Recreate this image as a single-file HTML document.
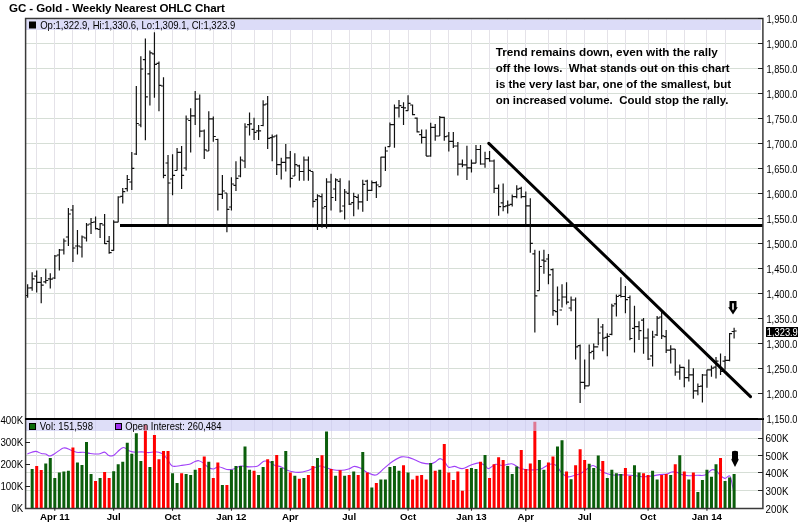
<!DOCTYPE html>
<html><head><meta charset="utf-8">
<style>
html,body{margin:0;padding:0;background:#fff;width:800px;height:524px;overflow:hidden}
svg{position:absolute;left:0;top:0;will-change:transform}
text{font-family:"Liberation Sans",sans-serif}
</style></head><body>
<svg width="800" height="524" viewBox="0 0 800 524">
<text x="9" y="11.5" font-size="11.6" font-weight="bold" fill="#000" letter-spacing="-0.1">GC - Gold - Weekly Nearest OHLC Chart</text>
<path d="M25 43.5H763M25 68.5H763M25 93.5H763M25 118.5H763M25 143.5H763M25 168.5H763M25 193.5H763M25 218.5H763M25 243.5H763M25 268.5H763M25 293.5H763M25 318.5H763M25 343.5H763M25 368.5H763M25 393.5H763" stroke="#d6ded6" stroke-width="1" fill="none"/>
<path d="M25 438.5H763M25 455.5H763M25 472.5H763M25 490.5H763" stroke="#d6ded6" stroke-width="1" fill="none"/>
<path d="M36.5 18V508M54.5 18V508M72.5 18V508M95.5 18V508M113.5 18V508M131.5 18V508M154.5 18V508M172.5 18V508M195.5 18V508M213.5 18V508M231.5 18V508M254.5 18V508M272.5 18V508M290.5 18V508M312.5 18V508M331.5 18V508M349.5 18V508M371.5 18V508M389.5 18V508M408.5 18V508M430.5 18V508M448.5 18V508M471.5 18V508M489.5 18V508M507.5 18V508M525.5 18V508M548.5 18V508M566.5 18V508M584.5 18V508M607.5 18V508M625.5 18V508M648.5 18V508M666.5 18V508M684.5 18V508M706.5 18V508M725.5 18V508" stroke="#e4e2e8" stroke-width="1" fill="none"/>
<rect x="26" y="19.5" width="735" height="10.5" fill="#dcdcf8"/>
<rect x="120" y="224" width="643" height="3" fill="#000"/>
<path d="M27.64 284.3V297.7M25.14 295.5H27.64M27.64 288.0H30.14M32.16 272.3V290.8M29.659999999999997 287.8H32.16M32.16 278.8H34.66M36.69 270.6V292.5M34.19 276.2H36.69M36.69 282.4H39.19M41.22 277.0V303.2M38.72 282.4H41.22M41.22 285.2H43.72M45.75 268.7V283.5M43.25 281.8H45.75M45.75 280.5H48.25M50.28 273.2V288.6M47.78 278.8H50.28M50.28 279.2H52.78M54.81 255.0V279.0M52.31 278.0H54.81M54.81 256.0H57.31M59.34 249.0V270.5M56.84 255.0H59.34M59.34 250.0H61.84M63.86 238.5V254.5M61.36 250.0H63.86M63.86 241.0H66.36M68.39 208.0V246.0M65.89 237.0H68.39M68.39 214.0H70.89M72.92 205.0V262.0M70.42 210.0H72.92M72.92 248.0H75.42M77.45 230.0V254.5M74.95 246.0H77.45M77.45 246.0H79.95M81.98 235.5V257.5M79.48 247.0H81.98M81.98 237.0H84.48M86.51 223.0V241.5M84.01 238.0H86.51M86.51 225.0H89.01M91.04 218.0V234.0M88.54 224.0H91.04M91.04 222.5H93.54M95.57 216.4V229.4M93.07 222.0H95.57M95.57 228.6H98.07M100.09 223.1V237.9M97.59 229.3H100.09M100.09 223.6H102.59M104.62 213.9V244.1M102.12 225.0H104.62M104.62 243.6H107.12M109.15 236.0V253.7M106.65 241.3H109.15M109.15 252.7H111.65M113.68 220.3V250.8M111.18 250.3H113.68M113.68 222.2H116.18M118.21 196.3V222.2M115.71 222.2H118.21M118.21 197.0H120.71M122.74 188.0V203.5M120.24 196.3H122.74M122.74 191.7H125.24M127.27 175.0V191.5M124.77 188.7H127.27M127.27 179.5H129.76999999999998M131.8 152.0V190.0M129.3 182.0H131.8M131.8 168.4H134.3M136.32 86.0V155.0M133.82 154.0H136.32M136.32 123.5H138.82M140.85 56.3V127.3M138.35 125.0H140.85M140.85 69.0H143.35M145.38 38.6V140.3M142.88 59.6H145.38M145.38 96.8H147.88M149.91 50.6V105.4M147.41 73.9H149.91M149.91 52.9H152.41M154.44 32.3V97.7M151.94 53.9H154.44M154.44 64.4H156.94M158.97 61.5V111.2M156.47 63.4H158.97M158.97 85.3H161.47M163.5 77.3V178.2M161.0 86.0H163.5M163.5 175.3H166.0M168.02 155.0V226.8M165.52 163.0H168.02M168.02 183.0H170.52M172.55 154.3V195.3M170.05 179.0H172.55M172.55 175.3H175.05M177.08 148.0V170.5M174.58 170.5H177.08M177.08 152.4H179.58M181.61 146.0V189.0M179.11 152.4H181.61M181.61 175.3H184.11M186.14 115.5V170.5M183.64 168.0H186.14M186.14 119.0H188.64M190.67 108.2V152.5M188.17 120.5H190.67M190.67 115.9H193.17M195.2 91.0V125.0M192.7 115.9H195.2M195.2 99.1H197.7M199.73 94.5V137.2M197.23 99.0H199.73M199.73 131.1H202.23M204.25 129.6V158.9M201.75 131.0H204.25M204.25 149.8H206.75M208.78 111.3V151.0M206.28 151.0H208.78M208.78 118.9H211.28M213.31 116.6V141.8M210.81 118.9H213.31M213.31 136.5H215.81M217.84 138.8V210.5M215.34 139.5H217.84M217.84 194.4H220.34M222.37 175.0V199.0M219.87 194.4H222.37M222.37 191.0H224.87M226.9 193.3V232.2M224.4 193.0H226.9M226.9 209.3H229.4M231.43 177.2V210.5M228.93 207.0H231.43M231.43 184.0H233.93M235.96 161.2V191.0M233.46 185.3H235.96M235.96 178.4H238.46M240.48 156.6V177.2M237.98 176.0H240.48M240.48 160.0H242.98M245.01 123.2V168.0M242.51 161.0H245.01M245.01 127.0H247.51M249.54 112.5V135.4M247.04 124.7H249.54M249.54 123.9H252.04M254.07 117.8V140.0M251.57 129.3H254.07M254.07 132.3H256.57M258.6 125.0V140.0M256.1 130.8H258.6M258.6 130.8H261.1M263.13 100.3V126.2M260.63 125.5H263.13M263.13 104.8H265.63M267.66 96.0V149.1M265.16 104.0H267.66M267.66 138.4H270.16M272.18 134.6V161.3M269.68 137.7H272.18M272.18 136.9H274.68M276.71 134.6V175.0M274.21 136.0H276.71M276.71 164.7H279.21M281.24 157.8V179.5M278.74 164.7H281.24M281.24 162.4H283.74M285.77 144.0V171.5M283.27 162.4H285.77M285.77 157.8H288.27M290.3 151.0V187.6M287.8 157.8H290.3M290.3 178.4H292.8M294.83 153.2V176.1M292.33 176.0H294.83M294.83 164.7H297.33M299.36 164.7V180.7M296.86 165.8H299.36M299.36 171.5H301.86M303.89 156.6V180.7M301.39 171.5H303.89M303.89 160.0H306.39M308.41 156.6V180.7M305.91 160.0H308.41M308.41 170.4H310.91M312.94 171.5V207.6M310.44 171.5H312.94M312.94 201.3H315.44M317.47 194.3V230.1M314.97 199.6H317.47M317.47 195.8H319.97M322.0 193.5V227.8M319.5 196.6H322.0M322.0 208.0H324.5M326.53 178.2V228.6M324.03 206.5H326.53M326.53 182.0H329.03M331.06 173.7V210.6M328.56 182.0H331.06M331.06 197.5H333.56M335.59 178.2V201.0M333.09 189.0H335.59M335.59 179.8H338.09M340.12 178.2V212.6M337.62 181.3H340.12M340.12 211.0H342.62M344.64 188.9V219.4M342.14 206.0H344.64M344.64 192.0H347.14M349.17 180.5V204.9M346.67 193.4H349.17M349.17 204.1H351.67M353.7 192.7V216.3M351.2 202.6H353.7M353.7 196.5H356.2M358.23 194.2V209.5M355.73 197.3H358.23M358.23 201.8H360.73M362.76 179.7V211.8M360.26 201.8H362.76M362.76 184.3H365.26M367.29 179.7V201.0M364.79 181.2H367.29M367.29 190.4H369.79M371.82 180.5V191.1M369.32 190.4H371.82M371.82 182.7H374.32M376.34 181.2V198.0M373.84 182.7H376.34M376.34 185.0H378.84M380.87 156.8V186.6M378.37 186.6H380.87M380.87 157.2H383.37M385.4 146.7V170.9M382.9 157.2H385.4M385.4 151.0H387.9M389.93 122.6V146.7M387.43 146.7H389.93M389.93 124.7H392.43M394.46 104.5V147.8M391.96 124.7H394.46M394.46 107.9H396.96M398.99 99.9V117.6M396.49 107.9H398.99M398.99 105.6H401.49M403.52 102.2V125.0M401.02 107.3H403.52M403.52 107.9H406.02M408.05 95.3V110.7M405.55 110.7H408.05M408.05 103.3H410.55M412.57 104.5V115.3M410.07 105.0H412.57M412.57 114.7H415.07M417.1 117.6V132.5M414.6 118.2H417.1M417.1 131.9H419.6M421.63 129.4V143.4M419.13 134.7H421.63M421.63 137.4H424.13M426.16 129.4V156.1M423.66 137.4H426.16M426.16 156.1H428.66M430.69 122.7V156.8M428.19 156.0H430.69M430.69 127.4H433.19M435.22 124.0V140.7M432.72 127.4H435.22M435.22 136.0H437.72M439.75 116.0V136.0M437.25 136.0H439.75M439.75 117.3H442.25M444.28 116.7V140.7M441.78 117.3H444.28M444.28 136.7H446.78M448.8 132.0V151.4M446.3 136.0H448.8M448.8 141.4H451.3M453.33 132.0V148.0M450.83 141.4H453.33M453.33 146.0H455.83M457.86 142.0V175.5M455.36 146.0H457.86M457.86 164.1H460.36M462.39 159.4V167.2M459.89 164.1H462.39M462.39 164.8H464.89M466.92 145.7V180.0M464.42 164.8H466.92M466.92 167.8H469.42M471.45 159.4V172.4M468.95 167.8H471.45M471.45 163.2H473.95M475.98 144.9V163.2M473.48 163.2H475.98M475.98 149.5H478.48M480.5 144.9V164.8M478.0 149.5H480.5M480.5 164.0H483.0M485.03 151.8V167.8M482.53 164.0H485.03M485.03 158.7H487.53M489.56 151.0V161.7M487.06 158.7H489.56M489.56 161.0H492.06M494.09 159.4V193.0M491.59 161.0H494.09M494.09 188.4H496.59M498.62 184.5V215.8M496.12 188.4H498.62M498.62 206.6H501.12M503.15 183.4V211.2M500.65 202.8H503.15M503.15 206.6H505.65M507.68 200.5V213.5M505.18 205.9H507.68M507.68 205.1H510.18M512.21 194.4V206.6M509.71000000000004 204.4H512.21M512.21 196.7H514.71M516.73 185.3V198.2M514.23 196.7H516.73M516.73 189.1H519.23M521.26 186.8V198.2M518.76 188.3H521.26M521.26 196.7H523.76M525.79 191.4V224.2M523.29 196.7H525.79M525.79 205.9H528.29M530.32 198.2V252.8M527.82 205.9H530.32M530.32 243.3H532.82M534.85 249.7V332.6M532.35 253.9H534.85M534.85 295.9H537.35M539.38 250.7V290.6M536.88 290.6H539.38M539.38 266.5H541.88M543.91 249.7V273.8M541.41 260.2H543.91M543.91 261.2H546.41M548.44 253.9V284.3M545.94 259.0H548.44M548.44 274.9H550.94M552.96 268.6V315.8M550.46 269.6H552.96M552.96 310.6H555.46M557.49 286.4V325.3M554.99 311.6H557.49M557.49 300.0H559.99M562.02 284.3V307.4M559.52 310.0H562.02M562.02 297.0H564.52M566.55 282.2V304.4M564.05 297.0H566.55M566.55 302.2H569.05M571.08 296.4V311.3M568.58 308.0H571.08M571.08 300.0H573.58M575.61 297.6V359.4M573.11 300.0H575.61M575.61 346.8H578.11M580.14 344.5V402.9M577.64 345.7H580.14M580.14 382.3H582.64M584.67 359.4V389.2M582.17 382.3H584.67M584.67 385.8H587.17M589.19 344.5V385.8M586.69 385.8H589.19M589.19 352.6H591.69M593.72 343.4V359.4M591.22 351.4H593.72M593.72 346.8H596.22M598.25 318.3V345.2M595.75 346.8H598.25M598.25 333.0H600.75M602.78 323.9V351.2M600.28 327.0H602.78M602.78 338.1H605.28M607.31 333.2V356.3M604.81 337.4H607.31M607.31 336.4H609.81M611.84 303.8V335.3M609.34 334.3H611.84M611.84 305.9H614.34M616.37 294.4V316.4M613.87 303.8H616.37M616.37 296.5H618.87M620.89 277.2V297.5M618.39 295.4H620.89M620.89 296.5H623.39M625.42 286.0V313.3M622.92 296.5H625.42M625.42 299.6H627.92M629.95 295.4V340.3M627.45 297.5H629.95M629.95 338.5H632.45M634.48 305.7V352.4M631.98 328.3H634.48M634.48 326.7H636.98M639.01 321.2V340.1M636.51 326.7H639.01M639.01 330.7H641.51M643.54 318.0V353.8M641.04 320.2H643.54M643.54 338.0H646.04M648.07 328.6V360.1M645.57 338.0H648.07M648.07 359.0H650.57M652.6 330.7V366.4M650.1 355.9H652.6M652.6 337.0H655.1M657.12 316.0V335.9M654.62 334.9H657.12M657.12 318.1H659.62M661.65 311.8V339.0M659.15 317.0H661.65M661.65 335.9H664.15M666.18 330.0V353.0M663.68 336.7H666.18M666.18 350.1H668.68M670.71 345.3V363.4M668.21 350.1H670.71M670.71 349.1H673.21M675.24 349.1V375.8M672.74 349.1H675.24M675.24 372.0H677.74M679.77 364.4V379.7M677.27 372.0H679.77M679.77 367.3H682.27M684.3 367.3V387.3M681.8 367.3H684.3M684.3 377.7H686.8M688.83 359.6V381.6M686.33 377.7H688.83M688.83 374.9H691.33M693.35 368.2V398.8M690.85 374.9H693.35M693.35 390.8H695.85M697.88 383.5V395.2M695.38 390.8H697.88M697.88 386.5H700.38M702.41 374.1V402.4M699.91 386.1H702.41M702.41 375.0H704.91M706.94 369.8V387.8M704.44 375.0H706.94M706.94 369.8H709.44M711.47 365.5V376.7M708.97 369.8H711.47M711.47 368.1H713.97M716.0 357.0V378.4M713.5 367.2H716.0M716.0 361.2H718.5M720.53 353.5V375.0M718.03 366.4H720.53M720.53 371.5H723.03M725.05 356.0V369.8M722.55 361.2H725.05M725.05 360.4H727.55M729.58 332.9V361.2M727.08 360.4H729.58M729.58 333.7H732.08M734.11 327.7V338.5M731.61 331.5H734.11M734.11 331.0H736.61" stroke="#111" stroke-width="1.2" fill="none"/>
<line x1="488.8" y1="143.4" x2="750.5" y2="396.7" stroke="#000" stroke-width="3" stroke-linecap="round"/>
<path d="M27.3,454C28.6,453.6 33.0,451.5 35.3,451.4C37.6,451.3 39.6,453.1 41.3,453.5C43.0,453.9 44.2,453.6 45.6,454C47.0,454.4 48.3,456.1 49.9,456C51.5,455.9 52.7,454.8 55,453.5C57.3,452.2 61.0,448.6 63.6,448C66.2,447.4 68.3,449.3 70.5,450C72.7,450.7 74.3,451.9 76.5,452.3C78.7,452.7 81.1,452.1 83.4,452.3C85.7,452.5 87.8,453.2 90.3,453.5C92.8,453.8 96.2,454.2 98.6,454C101.0,453.8 102.9,451.8 104.6,452.1C106.3,452.4 107.5,455.0 108.9,455.6C110.3,456.2 111.8,456.2 113.2,455.6C114.6,455.0 115.8,453.2 117.5,451.8C119.2,450.4 121.5,447.6 123.5,447.5C125.5,447.4 127.5,450.1 129.5,450.9C131.5,451.7 133.5,452.1 135.5,452.3C137.5,452.5 139.3,451.8 141.5,451.8C143.7,451.9 146.2,452.6 148.4,452.6C150.7,452.6 152.8,451.7 155,451.8C157.2,451.9 159.9,452.4 161.9,453.5C163.9,454.6 165.3,456.5 167,458.6C168.7,460.7 169.9,464.9 172.2,466C174.5,467.1 177.9,465.8 180.8,465.5C183.7,465.2 187.1,464.9 189.4,464.3C191.7,463.7 192.9,462.3 194.5,461.7C196.1,461.1 197.4,460.5 198.8,460.7C200.2,460.9 201.5,461.8 203.1,462.9C204.7,464.0 206.5,466.2 208.2,467.2C209.9,468.2 211.7,469.1 213.4,469C215.1,468.9 216.3,466.6 218.6,466.7C220.8,466.8 224.4,469.1 226.9,469.5C229.4,469.9 231.4,469.6 233.7,469C236.0,468.4 238.0,466.4 240.6,466C243.2,465.6 246.3,466.9 249.2,466.9C252.1,466.9 255.4,466.9 257.8,466C260.2,465.1 261.8,461.8 263.8,461.2C265.8,460.6 267.9,461.4 269.8,462.1C271.7,462.8 273.1,464.7 275,465.5C276.9,466.3 279.1,466.0 281,466.7C282.9,467.4 284.6,469.1 286.1,469.8C287.6,470.6 288.1,470.8 290.2,471.2C292.3,471.6 295.8,472.5 298.7,472.4C301.6,472.3 304.9,471.4 307.3,470.7C309.7,470.0 311.2,468.9 313.3,468.1C315.4,467.3 318.1,466.1 320.2,466C322.3,465.9 324.0,467.1 326.2,467.7C328.4,468.3 330.5,469.4 333.1,469.8C335.7,470.2 339.1,470.4 341.7,470.3C344.3,470.2 346.5,469.6 348.6,469C350.7,468.4 352.4,466.5 354.3,466.4C356.2,466.2 358.2,467.1 360.3,468.1C362.4,469.1 364.6,471.2 367.2,472.4C369.8,473.5 372.9,475.7 375.8,475C378.7,474.3 381.5,470.4 384.4,468.1C387.2,465.8 390.0,463.1 392.9,461.2C395.8,459.3 398.9,457.5 401.5,456.9C404.1,456.3 406.1,456.9 408.4,457.4C410.7,457.9 413.1,459.1 415.3,460C417.6,460.9 419.4,462.3 421.9,462.9C424.4,463.5 428.2,464.0 430.5,463.8C432.8,463.6 434.0,462.6 435.6,461.7C437.2,460.8 438.5,458.7 439.9,458.6C441.3,458.5 442.8,459.8 444.2,461.2C445.6,462.6 446.8,466.3 448.5,467.2C450.2,468.1 452.2,466.2 454.5,466.4C456.8,466.6 459.6,468.8 462.2,468.6C464.8,468.5 467.3,466.4 470,465.5C472.7,464.6 476.1,462.9 478.6,462.9C481.1,462.9 483.3,464.6 485,465.5C486.7,466.4 486.9,468.8 488.6,468.6C490.4,468.4 493.2,464.8 495.5,464.3C497.8,463.8 499.6,465.6 502.3,465.5C505.0,465.4 508.9,463.4 511.8,463.8C514.7,464.2 517.1,467.1 519.5,468.1C521.9,469.1 523.8,469.5 526.4,469.8C529.0,470.1 532.6,469.9 535,469.8C537.4,469.7 538.5,469.9 541,469C543.5,468.1 547.5,464.9 550,464.3C552.5,463.7 554.3,464.1 556.2,465.5C558.1,466.9 559.4,470.5 561.3,472.4C563.1,474.3 565.3,476.1 567.3,476.7C569.3,477.3 571.0,476.4 573.3,475.8C575.6,475.2 578.8,474.3 581.1,473.2C583.4,472.1 585.1,470.3 587.1,469C589.1,467.7 591.0,465.4 593.1,465.5C595.2,465.6 598.0,468.6 600,469.8C602.0,471.0 602.6,472.0 605.1,472.9C607.6,473.8 612.8,475.0 615,475.3C617.2,475.6 616.6,474.7 618.6,474.6C620.6,474.6 624.3,474.8 627.2,475C630.1,475.2 632.9,475.5 635.8,475.8C638.7,476.1 641.5,476.7 644.4,476.7C647.2,476.7 650.3,476.1 652.9,475.8C655.5,475.5 657.5,474.9 659.8,474.6C662.1,474.3 664.7,474.5 666.7,474.1C668.7,473.7 670.1,472.3 671.8,472C673.5,471.7 675.3,472.0 677,472.4C678.7,472.8 679.9,474.0 681.9,474.6C683.9,475.2 686.1,475.7 688.7,475.8C691.3,475.9 694.6,475.4 697.3,475.3C700.0,475.2 702.7,475.9 705.1,475C707.5,474.1 710.0,470.5 711.9,469.8C713.8,469.1 714.9,469.9 716.2,470.7C717.5,471.5 718.3,473.3 719.7,474.6C721.1,475.9 723.1,478.1 724.8,478.4C726.5,478.7 728.6,474.3 730,476.3C731.4,478.3 732.8,488.0 733.4,490.4" fill="none" stroke="#a040f8" stroke-width="1.1" stroke-linejoin="round"/>
<path d="M30.66 469.0H33.66V508H30.66ZM44.25 463.5H47.25V508H44.25ZM48.78 458.0H51.78V508H48.78ZM53.31 478.0H56.31V508H53.31ZM57.84 472.4H60.84V508H57.84ZM62.36 471.5H65.36V508H62.36ZM66.89 470.7H69.89V508H66.89ZM75.95 462.6H78.95V508H75.95ZM80.48 465.0H83.48V508H80.48ZM85.01 442.0H88.01V508H85.01ZM89.54 474.0H92.54V508H89.54ZM98.59 477.9H101.59V508H98.59ZM112.18 471.2H115.18V508H112.18ZM116.71 464.3H119.71V508H116.71ZM121.24 461.7H124.24V508H121.24ZM125.77 442.8H128.77V508H125.77ZM130.30 453.8H133.30V508H130.30ZM134.82 433.2H137.82V508H134.82ZM139.35 460.9H142.35V508H139.35ZM148.41 466.9H151.41V508H148.41ZM171.05 473.2H174.05V508H171.05ZM175.58 483.0H178.58V508H175.58ZM184.64 474.1H187.64V508H184.64ZM189.17 475.0H192.17V508H189.17ZM193.70 469.8H196.70V508H193.70ZM207.28 461.7H210.28V508H207.28ZM220.87 484.9H223.87V508H220.87ZM229.93 469.8H232.93V508H229.93ZM234.46 466.0H237.46V508H234.46ZM238.98 466.0H241.98V508H238.98ZM243.51 446.6H246.51V508H243.51ZM248.04 469.8H251.04V508H248.04ZM257.10 475.0H260.10V508H257.10ZM261.63 466.9H264.63V508H261.63ZM270.68 460.9H273.68V508H270.68ZM279.74 467.7H282.74V508H279.74ZM284.27 450.9H287.27V508H284.27ZM293.33 475.8H296.33V508H293.33ZM302.39 477.9H305.39V508H302.39ZM315.97 458.1H318.97V508H315.97ZM325.03 431.5H328.03V508H325.03ZM334.09 475.8H337.09V508H334.09ZM343.14 475.8H346.14V508H343.14ZM352.20 471.5H355.20V508H352.20ZM361.26 452.1H364.26V508H361.26ZM370.32 487.5H373.32V508H370.32ZM379.37 479.6H382.37V508H379.37ZM383.90 479.6H386.90V508H383.90ZM388.43 466.9H391.43V508H388.43ZM392.96 466.0H395.96V508H392.96ZM397.49 470.7H400.49V508H397.49ZM406.55 472.4H409.55V508H406.55ZM429.19 462.9H432.19V508H429.19ZM438.25 469.8H441.25V508H438.25ZM469.95 468.1H472.95V508H469.95ZM474.48 469.0H477.48V508H474.48ZM483.53 454.9H486.53V508H483.53ZM506.18 466.0H509.18V508H506.18ZM510.71 474.1H513.71V508H510.71ZM515.23 466.4H518.23V508H515.23ZM537.88 460.0H540.88V508H537.88ZM542.41 469.8H545.41V508H542.41ZM555.99 446.6H558.99V508H555.99ZM560.52 440.3H563.52V508H560.52ZM569.58 479.3H572.58V508H569.58ZM587.69 463.8H590.69V508H587.69ZM592.22 468.1H595.22V508H592.22ZM596.75 455.6H599.75V508H596.75ZM605.81 477.9H608.81V508H605.81ZM610.34 469.8H613.34V508H610.34ZM614.87 473.2H617.87V508H614.87ZM619.39 474.1H622.39V508H619.39ZM632.98 465.2H635.98V508H632.98ZM637.51 472.4H640.51V508H637.51ZM651.10 470.7H654.10V508H651.10ZM655.62 479.6H658.62V508H655.62ZM669.21 475.0H672.21V508H669.21ZM678.27 455.2H681.27V508H678.27ZM687.33 479.6H690.33V508H687.33ZM696.38 492.1H699.38V508H696.38ZM700.91 480.1H703.91V508H700.91ZM705.44 469.8H708.44V508H705.44ZM709.97 476.7H712.97V508H709.97ZM714.50 464.3H717.50V508H714.50ZM723.55 481.0H726.55V508H723.55ZM728.08 477.5H731.08V508H728.08ZM732.61 474.1H735.61V508H732.61Z" fill="#0b5e0b"/>
<path d="M35.19 466.0H38.19V508H35.19ZM39.72 470.0H42.72V508H39.72ZM71.42 447.5H74.42V508H71.42ZM94.07 481.0H97.07V508H94.07ZM103.12 472.0H106.12V508H103.12ZM107.65 477.9H110.65V508H107.65ZM143.88 425.0H146.88V508H143.88ZM152.94 435.1H155.94V508H152.94ZM157.47 459.2H160.47V508H157.47ZM162.00 450.9H165.00V508H162.00ZM166.52 450.9H169.52V508H166.52ZM180.11 473.2H183.11V508H180.11ZM198.23 468.1H201.23V508H198.23ZM202.75 456.4H205.75V508H202.75ZM211.81 477.9H214.81V508H211.81ZM216.34 462.6H219.34V508H216.34ZM225.40 484.9H228.40V508H225.40ZM252.57 470.7H255.57V508H252.57ZM266.16 459.2H269.16V508H266.16ZM275.21 454.9H278.21V508H275.21ZM288.80 472.4H291.80V508H288.80ZM297.86 478.7H300.86V508H297.86ZM306.91 475.0H309.91V508H306.91ZM311.44 466.0H314.44V508H311.44ZM320.50 455.2H323.50V508H320.50ZM329.56 469.0H332.56V508H329.56ZM338.62 470.3H341.62V508H338.62ZM347.67 475.0H350.67V508H347.67ZM356.73 475.0H359.73V508H356.73ZM365.79 472.4H368.79V508H365.79ZM374.84 483.0H377.84V508H374.84ZM402.02 465.2H405.02V508H402.02ZM411.07 479.6H414.07V508H411.07ZM415.60 475.8H418.60V508H415.60ZM420.13 475.0H423.13V508H420.13ZM424.66 479.6H427.66V508H424.66ZM433.72 470.7H436.72V508H433.72ZM442.78 444.0H445.78V508H442.78ZM447.30 472.4H450.30V508H447.30ZM451.83 480.1H454.83V508H451.83ZM456.36 471.5H459.36V508H456.36ZM460.89 490.8H463.89V508H460.89ZM465.42 469.0H468.42V508H465.42ZM479.00 461.7H482.00V508H479.00ZM488.06 477.9H491.06V508H488.06ZM492.59 464.3H495.59V508H492.59ZM497.12 457.3H500.12V508H497.12ZM501.65 460.0H504.65V508H501.65ZM519.76 450.1H522.76V508H519.76ZM524.29 469.0H527.29V508H524.29ZM528.82 463.5H531.82V508H528.82ZM533.35 421.7H536.35V508H533.35ZM546.94 462.6H549.94V508H546.94ZM551.46 456.4H554.46V508H551.46ZM565.05 471.5H568.05V508H565.05ZM574.11 465.2H577.11V508H574.11ZM578.64 449.2H581.64V508H578.64ZM583.17 460.0H586.17V508H583.17ZM601.28 460.9H604.28V508H601.28ZM623.92 468.1H626.92V508H623.92ZM628.45 475.8H631.45V508H628.45ZM642.04 473.2H645.04V508H642.04ZM646.57 475.0H649.57V508H646.57ZM660.15 475.0H663.15V508H660.15ZM664.68 474.1H667.68V508H664.68ZM673.74 464.3H676.74V508H673.74ZM682.80 471.5H685.80V508H682.80ZM691.85 472.4H694.85V508H691.85ZM719.03 458.1H722.03V508H719.03Z" fill="#ff0000"/>
<rect x="26" y="420" width="735" height="11" fill="#c8c8f4" fill-opacity="0.6"/>
<path d="M25.6 18.5H762.9V508.5H25.6Z" fill="none" stroke="#3a3a3a" stroke-width="1.5"/>
<rect x="25" y="418" width="739" height="2" fill="#000"/>
<path d="M758 18.5H763M758 43.5H763M758 68.5H763M758 93.5H763M758 118.5H763M758 143.5H763M758 168.5H763M758 193.5H763M758 218.5H763M758 243.5H763M758 268.5H763M758 293.5H763M758 318.5H763M758 343.5H763M758 368.5H763M758 393.5H763M758 418.5H763M758 438.5H763M758 455.5H763M758 472.5H763M758 490.5H763M25 442.5H30M25 464.5H30M25 486.5H30" stroke="#222" stroke-width="1" fill="none"/>
<g font-size="10" fill="#000"><text x="766.4" y="23" textLength="31" lengthAdjust="spacingAndGlyphs">1,950.0</text><text x="766.4" y="48" textLength="31" lengthAdjust="spacingAndGlyphs">1,900.0</text><text x="766.4" y="73" textLength="31" lengthAdjust="spacingAndGlyphs">1,850.0</text><text x="766.4" y="98" textLength="31" lengthAdjust="spacingAndGlyphs">1,800.0</text><text x="766.4" y="123" textLength="31" lengthAdjust="spacingAndGlyphs">1,750.0</text><text x="766.4" y="148" textLength="31" lengthAdjust="spacingAndGlyphs">1,700.0</text><text x="766.4" y="173" textLength="31" lengthAdjust="spacingAndGlyphs">1,650.0</text><text x="766.4" y="198" textLength="31" lengthAdjust="spacingAndGlyphs">1,600.0</text><text x="766.4" y="223" textLength="31" lengthAdjust="spacingAndGlyphs">1,550.0</text><text x="766.4" y="248" textLength="31" lengthAdjust="spacingAndGlyphs">1,500.0</text><text x="766.4" y="273" textLength="31" lengthAdjust="spacingAndGlyphs">1,450.0</text><text x="766.4" y="298" textLength="31" lengthAdjust="spacingAndGlyphs">1,400.0</text><text x="766.4" y="323" textLength="31" lengthAdjust="spacingAndGlyphs">1,350.0</text><text x="766.4" y="348" textLength="31" lengthAdjust="spacingAndGlyphs">1,300.0</text><text x="766.4" y="373" textLength="31" lengthAdjust="spacingAndGlyphs">1,250.0</text><text x="766.4" y="398" textLength="31" lengthAdjust="spacingAndGlyphs">1,200.0</text><text x="766.4" y="423" textLength="31" lengthAdjust="spacingAndGlyphs">1,150.0</text><text x="765.6" y="442.0" textLength="22.8" lengthAdjust="spacingAndGlyphs">600K</text><text x="765.6" y="459.5" textLength="22.8" lengthAdjust="spacingAndGlyphs">500K</text><text x="765.6" y="477.0" textLength="22.8" lengthAdjust="spacingAndGlyphs">400K</text><text x="765.6" y="494.5" textLength="22.8" lengthAdjust="spacingAndGlyphs">300K</text><text x="765.6" y="512.5" textLength="22.8" lengthAdjust="spacingAndGlyphs">200K</text><text x="0.3999999999999986" y="424.2" textLength="22.8" lengthAdjust="spacingAndGlyphs">400K</text><text x="0.3999999999999986" y="446.2" textLength="22.8" lengthAdjust="spacingAndGlyphs">300K</text><text x="0.3999999999999986" y="468.2" textLength="22.8" lengthAdjust="spacingAndGlyphs">200K</text><text x="0.3999999999999986" y="490.2" textLength="22.8" lengthAdjust="spacingAndGlyphs">100K</text><text x="11.399999999999999" y="512.2" textLength="11.8" lengthAdjust="spacingAndGlyphs">0K</text></g>
<rect x="766" y="327" width="32" height="10" fill="#000"/>
<text x="766.8" y="336" font-size="10" fill="#fff" textLength="31" lengthAdjust="spacingAndGlyphs">1,323.9</text>
<rect x="29" y="21.5" width="7" height="7" fill="#000"/>
<text x="40.2" y="28.6" font-size="10.2" fill="#000" textLength="195" lengthAdjust="spacingAndGlyphs">Op:1,322.9, Hi:1,330.6, Lo:1,309.1, Cl:1,323.9</text>
<rect x="29.5" y="423.5" width="6" height="6" fill="#0b6b0b" stroke="#000" stroke-width="1"/>
<text x="39.7" y="429.8" font-size="10" fill="#000" textLength="53.3" lengthAdjust="spacingAndGlyphs">Vol: 151,598</text>
<rect x="115.5" y="423.5" width="6" height="6" fill="#a030f0" stroke="#000" stroke-width="1"/>
<text x="125.2" y="429.8" font-size="10" fill="#000" textLength="96.3" lengthAdjust="spacingAndGlyphs">Open Interest: 260,484</text>
<path d="M54.81 508V510.8M113.68 508V510.8M172.55 508V510.8M231.43 508V510.8M290.3 508V510.8M349.17 508V510.8M408.05 508V510.8M471.45 508V510.8M525.79 508V510.8M584.67 508V510.8M648.07 508V510.8M706.94 508V510.8" stroke="#222" stroke-width="1" fill="none"/>
<g font-size="9.7" font-weight="bold" fill="#000"><text x="54.81" y="519.6" text-anchor="middle">Apr 11</text><text x="113.68" y="519.6" text-anchor="middle">Jul</text><text x="172.55" y="519.6" text-anchor="middle">Oct</text><text x="231.43" y="519.6" text-anchor="middle">Jan 12</text><text x="290.3" y="519.6" text-anchor="middle">Apr</text><text x="349.17" y="519.6" text-anchor="middle">Jul</text><text x="408.05" y="519.6" text-anchor="middle">Oct</text><text x="471.45" y="519.6" text-anchor="middle">Jan 13</text><text x="525.79" y="519.6" text-anchor="middle">Apr</text><text x="584.67" y="519.6" text-anchor="middle">Jul</text><text x="648.07" y="519.6" text-anchor="middle">Oct</text><text x="706.94" y="519.6" text-anchor="middle">Jan 14</text></g>
<g font-size="11" font-weight="bold" fill="#000" style="white-space:pre"><text x="495.7" y="55.6" xml:space="preserve" textLength="222" lengthAdjust="spacingAndGlyphs">Trend remains down, even with the rally</text><text x="495.7" y="71.6" xml:space="preserve" textLength="234" lengthAdjust="spacingAndGlyphs">off the lows.  What stands out on this chart</text><text x="495.7" y="87.6" xml:space="preserve" textLength="235.4" lengthAdjust="spacingAndGlyphs">is the very last bar, one of the smallest, but</text><text x="495.7" y="103.6" xml:space="preserve" textLength="232.7" lengthAdjust="spacingAndGlyphs">on increased volume.  Could stop the rally.</text></g>
<path d="M729.5 301H736.5V307.2H737.8L733 314.6L728.2 307.2H729.5Z" fill="#000"/><path d="M732.2 303.2H733.8V309L733 310.6L732.2 309Z" fill="#fff"/>
<path d="M732 451.5Q735 450 738 451.5V458.5Q739 459 738.5 460L735 467L731.5 460Q731 459 732 458.5Z" fill="#000"/>
</svg></body></html>
